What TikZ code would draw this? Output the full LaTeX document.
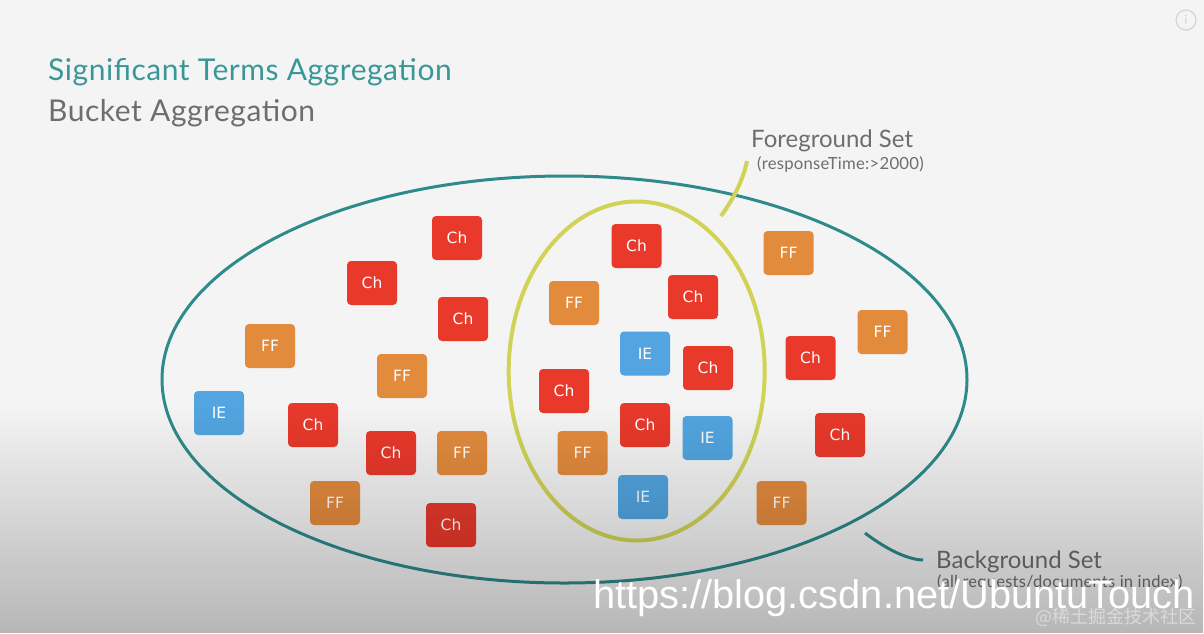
\documentclass[tikz,border=0pt]{standalone}
\usepackage{fontspec}
\setmainfont{Lato}
\newfontfamily\titlefont{Lato}[LetterSpace=1.8]
\newfontfamily\notefont{Lato}[LetterSpace=1.5]
\newfontfamily\boxfont{DejaVu Sans}
\newfontfamily\wmfont{Liberation Sans}
\newfontfamily\cjkfont{Noto Sans CJK SC}
\usetikzlibrary{shapes.geometric,fadings}
\definecolor{bgcol}{HTML}{F4F4F4}
\definecolor{chred}{HTML}{E8392B}
\definecolor{fforange}{HTML}{E38B3D}
\definecolor{ieblue}{HTML}{52A5E0}
\definecolor{tealline}{HTML}{2F8A8B}
\definecolor{titleteal}{HTML}{3A9797}
\definecolor{fgline}{HTML}{D0D356}
\definecolor{labelgrey}{HTML}{6E6E6E}
\definecolor{icongrey}{HTML}{D4D4D4}
\definecolor{cjkgrey}{HTML}{DADADA}
\tikzfading[name=fadedown, top color=transparent!100, bottom color=transparent!75]
\tikzset{
  tile/.style={rounded corners=4pt, minimum width=50pt, minimum height=44pt, inner sep=0pt,
    text=white, font=\boxfont\fontsize{15.5}{15.5}\selectfont},
  ch/.style={tile, fill=chred},
  ff/.style={tile, fill=fforange},
  ie/.style={tile, fill=ieblue},
  lbl/.style={anchor=base west, inner sep=0pt},
}
\begin{document}
\begin{tikzpicture}[x=1pt,y=-1pt]
\useasboundingbox (0,0) rectangle (1204,633);
\fill[bgcol] (0,0) rectangle (1204,633);

% sets
\node[ellipse, draw=tealline, line width=3pt, minimum width=805pt, minimum height=407pt, inner sep=0pt] (bgset) at (564.5,379.5) {};
\node[ellipse, draw=fgline, line width=4pt, minimum width=256pt, minimum height=339pt, inner sep=0pt] (fgset) at (636.7,371) {};

% left region
\node[ch] (c1) at (457,238) {Ch};
\node[ch] (c2) at (372,283) {Ch};
\node[ch] (c3) at (463,319) {Ch};
\node[ff] (f1) at (270,346) {FF};
\node[ff] (f2) at (402,376) {FF};
\node[ie] (i1) at (219,413) {IE};
\node[ch] (c4) at (313,425) {Ch};
\node[ch] (c5) at (391,453) {Ch};
\node[ff] (f3) at (462,453) {FF};
\node[ff] (f4) at (335,503) {FF};
\node[ch] (c6) at (451,525) {Ch};

% inner region
\node[ch] (c7) at (636.5,246) {Ch};
\node[ff] (f5) at (574,303) {FF};
\node[ch] (c8) at (693,297) {Ch};
\node[ie] (i2) at (645,353.5) {IE};
\node[ch] (c9) at (708,368) {Ch};
\node[ch] (c10) at (564,391) {Ch};
\node[ch] (c11) at (645,425) {Ch};
\node[ie] (i3) at (707.5,438) {IE};
\node[ff] (f6) at (582.5,453) {FF};
\node[ie] (i4) at (643,497) {IE};

% right region
\node[ff] (f7) at (788.5,253) {FF};
\node[ff] (f8) at (882.5,332) {FF};
\node[ch] (c12) at (810.5,358) {Ch};
\node[ch] (c13) at (840,435) {Ch};
\node[ff] (f9) at (781.5,503) {FF};

% titles and labels
\node[lbl, text=titleteal, font=\titlefont\fontsize{30}{30}\selectfont] (title) at (48,80) {Significant Terms Aggregation};
\node[lbl, text=labelgrey, font=\titlefont\fontsize{30}{30}\selectfont] (subtitle) at (48,121) {Bucket Aggregation};
\node[lbl, text=labelgrey, font=\fontsize{24}{24}\selectfont] (fglabel) at (751,147) {Foreground Set};
\node[lbl, text=labelgrey, font=\notefont\fontsize{16.7}{16.7}\selectfont] (fgnote) at (757,169) {(responseTime:>2000)};
\node[lbl, text=labelgrey, font=\notefont\fontsize{16.5}{16.5}\selectfont] (bgnote) at (937,587) {(all requests/documents in index)};
\node[lbl, text=labelgrey, font=\fontsize{24}{24}\selectfont] (bglabel) at (936,568) {Background Set};

% connectors
\coordinate (fgA) at (747,161);
\coordinate (fgB) at (721,216);
\draw[fgline, line width=4pt] (fgA) .. controls (743,180) and (734,198) .. (fgB);
\coordinate (bgA) at (865,533);
\coordinate (bgB) at (923,560);
\draw[tealline, line width=3pt] (bgA) .. controls (882,546) and (905,559.5) .. (bgB);

% lower shading
\fill[black, path fading=fadedown] (0,405) rectangle (1204,633);

% watermark
\node[anchor=base west, inner sep=0pt, text=white, font=\wmfont\fontsize{39.8}{39.8}\selectfont] (wm) at (593,608) {https://blog.csdn.net/UbuntuTouch};
\node[anchor=base east, inner sep=0pt, text=cjkgrey, font=\cjkfont\fontsize{18}{18}\selectfont] (wm2) at (1197,623) {@稀土掘金技术社区};

% info icon
\node[circle, draw=icongrey, line width=1.2pt, minimum size=20pt, inner sep=0pt, text=icongrey, font=\fontsize{13}{13}\selectfont] (info) at (1186,20) {i};
\end{tikzpicture}
\end{document}
